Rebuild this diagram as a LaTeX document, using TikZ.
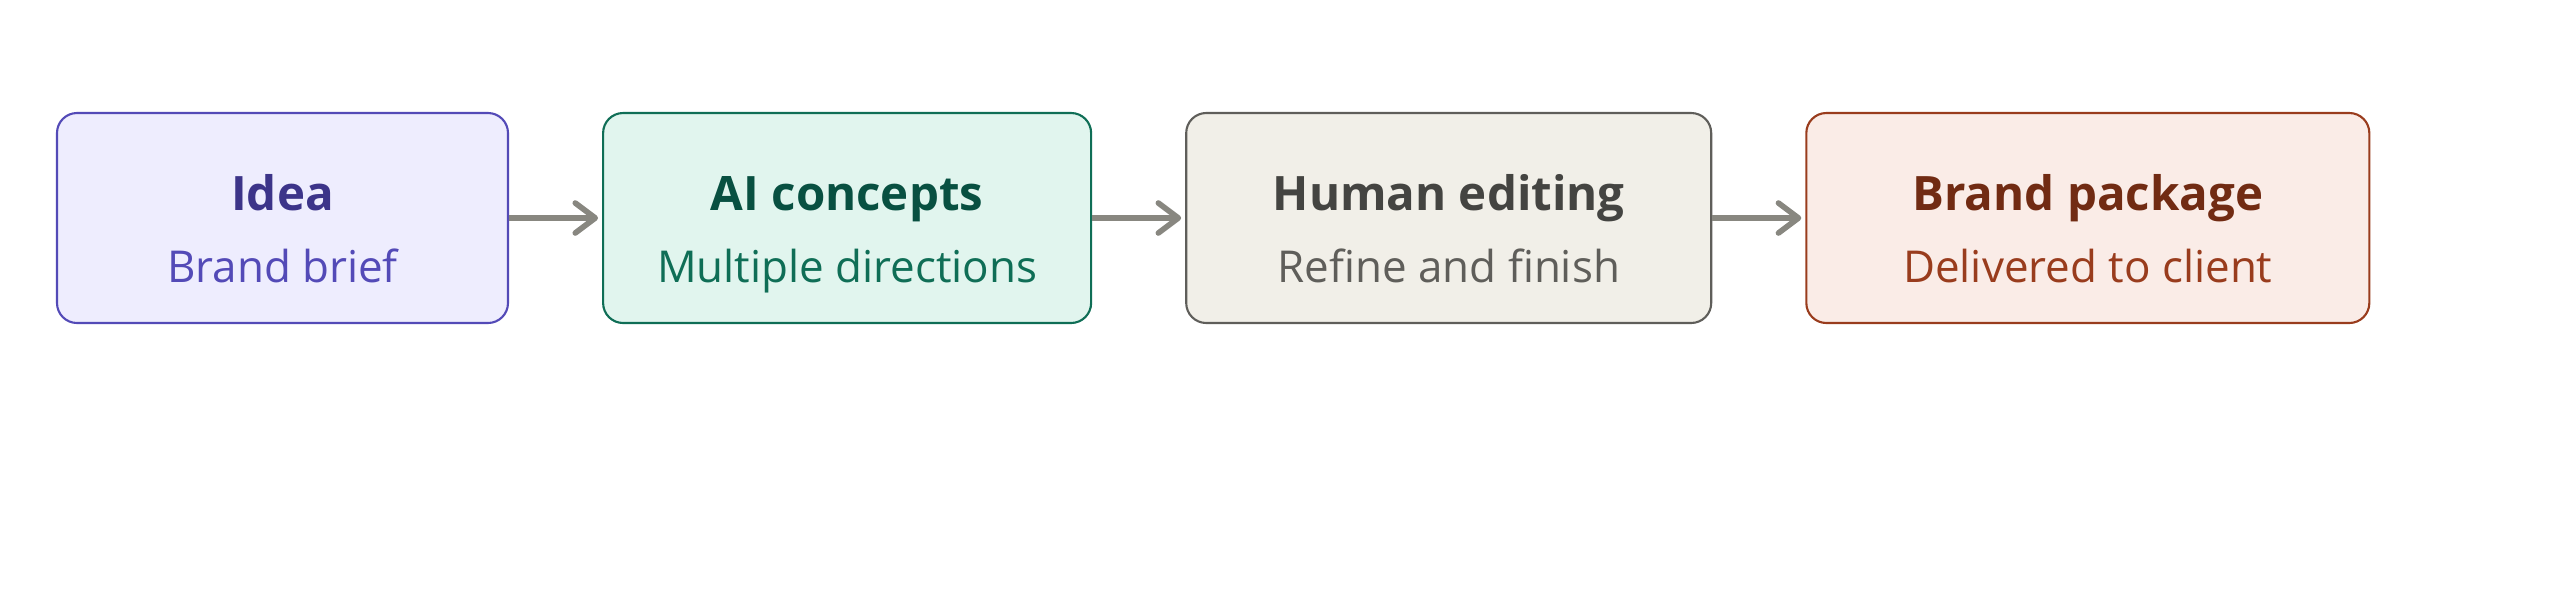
\documentclass[tikz,border=0pt]{standalone}
\usepackage{fontspec}
\setmainfont{Open Sans}
\usetikzlibrary{arrows.meta,positioning,chains}

\definecolor{ideafill}{HTML}{EEEDFE}
\definecolor{ideaedge}{HTML}{534AB7}
\definecolor{ideatitle}{HTML}{3C3489}
\definecolor{aifill}{HTML}{E1F5EE}
\definecolor{aiedge}{HTML}{0F6E56}
\definecolor{aititle}{HTML}{085041}
\definecolor{editfill}{HTML}{F1EFE8}
\definecolor{editedge}{HTML}{5F5E5A}
\definecolor{edittitle}{HTML}{444441}
\definecolor{pkgfill}{HTML}{FAECE7}
\definecolor{pkgedge}{HTML}{993C1D}
\definecolor{pkgtitle}{HTML}{712B13}
\definecolor{arrowgray}{HTML}{888780}

\begin{document}
\begin{tikzpicture}[
    stage/.style={draw,rounded corners=0.2cm,minimum height=2.1cm,line width=0.6pt},
    sarr/.style={-{Straight Barb[length=0.2cm,width=0.3cm,round]},line width=1.6pt,draw=arrowgray,shorten >=0.04cm},
    ttl/.style={anchor=base,font=\bfseries\fontsize{13.5}{16}\selectfont},
    sub/.style={anchor=base,font=\fontsize{12.5}{15}\selectfont},
    node distance=0.93cm
    ]
    \useasboundingbox (0,0) rectangle (25.6,6.02);
    \begin{scope}[start chain=going right,nodes={stage,on chain}]
        \node[fill=ideafill,draw=ideaedge,minimum width=4.51cm] (idea) at (2.825,3.84) {};
        \node[fill=aifill,draw=aiedge,minimum width=4.88cm] (concepts) {};
        \node[fill=editfill,draw=editedge,minimum width=5.25cm] (editing) {};
        \node[fill=pkgfill,draw=pkgedge,minimum width=5.63cm] (package) {};
    \end{scope}
    \node[ttl,text=ideatitle] (ideattl) at ([yshift=0.08cm]idea.center) {Idea};
    \node[sub,text=ideaedge] (ideasub) at ([yshift=-0.64cm]idea.center) {Brand brief};
    \node[ttl,text=aititle] (conceptsttl) at ([yshift=0.08cm]concepts.center) {AI concepts};
    \node[sub,text=aiedge] (conceptssub) at ([yshift=-0.64cm]concepts.center) {Multiple directions};
    \node[ttl,text=edittitle] (editingttl) at ([yshift=0.08cm]editing.center) {Human editing};
    \node[sub,text=editedge] (editingsub) at ([yshift=-0.64cm]editing.center) {Refine and finish};
    \node[ttl,text=pkgtitle] (packagettl) at ([yshift=0.08cm]package.center) {Brand package};
    \node[sub,text=pkgedge] (packagesub) at ([yshift=-0.64cm]package.center) {Delivered to client};
    \draw[sarr] (idea) -- (concepts);
    \draw[sarr] (concepts) -- (editing);
    \draw[sarr] (editing) -- (package);
\end{tikzpicture}
\end{document}
